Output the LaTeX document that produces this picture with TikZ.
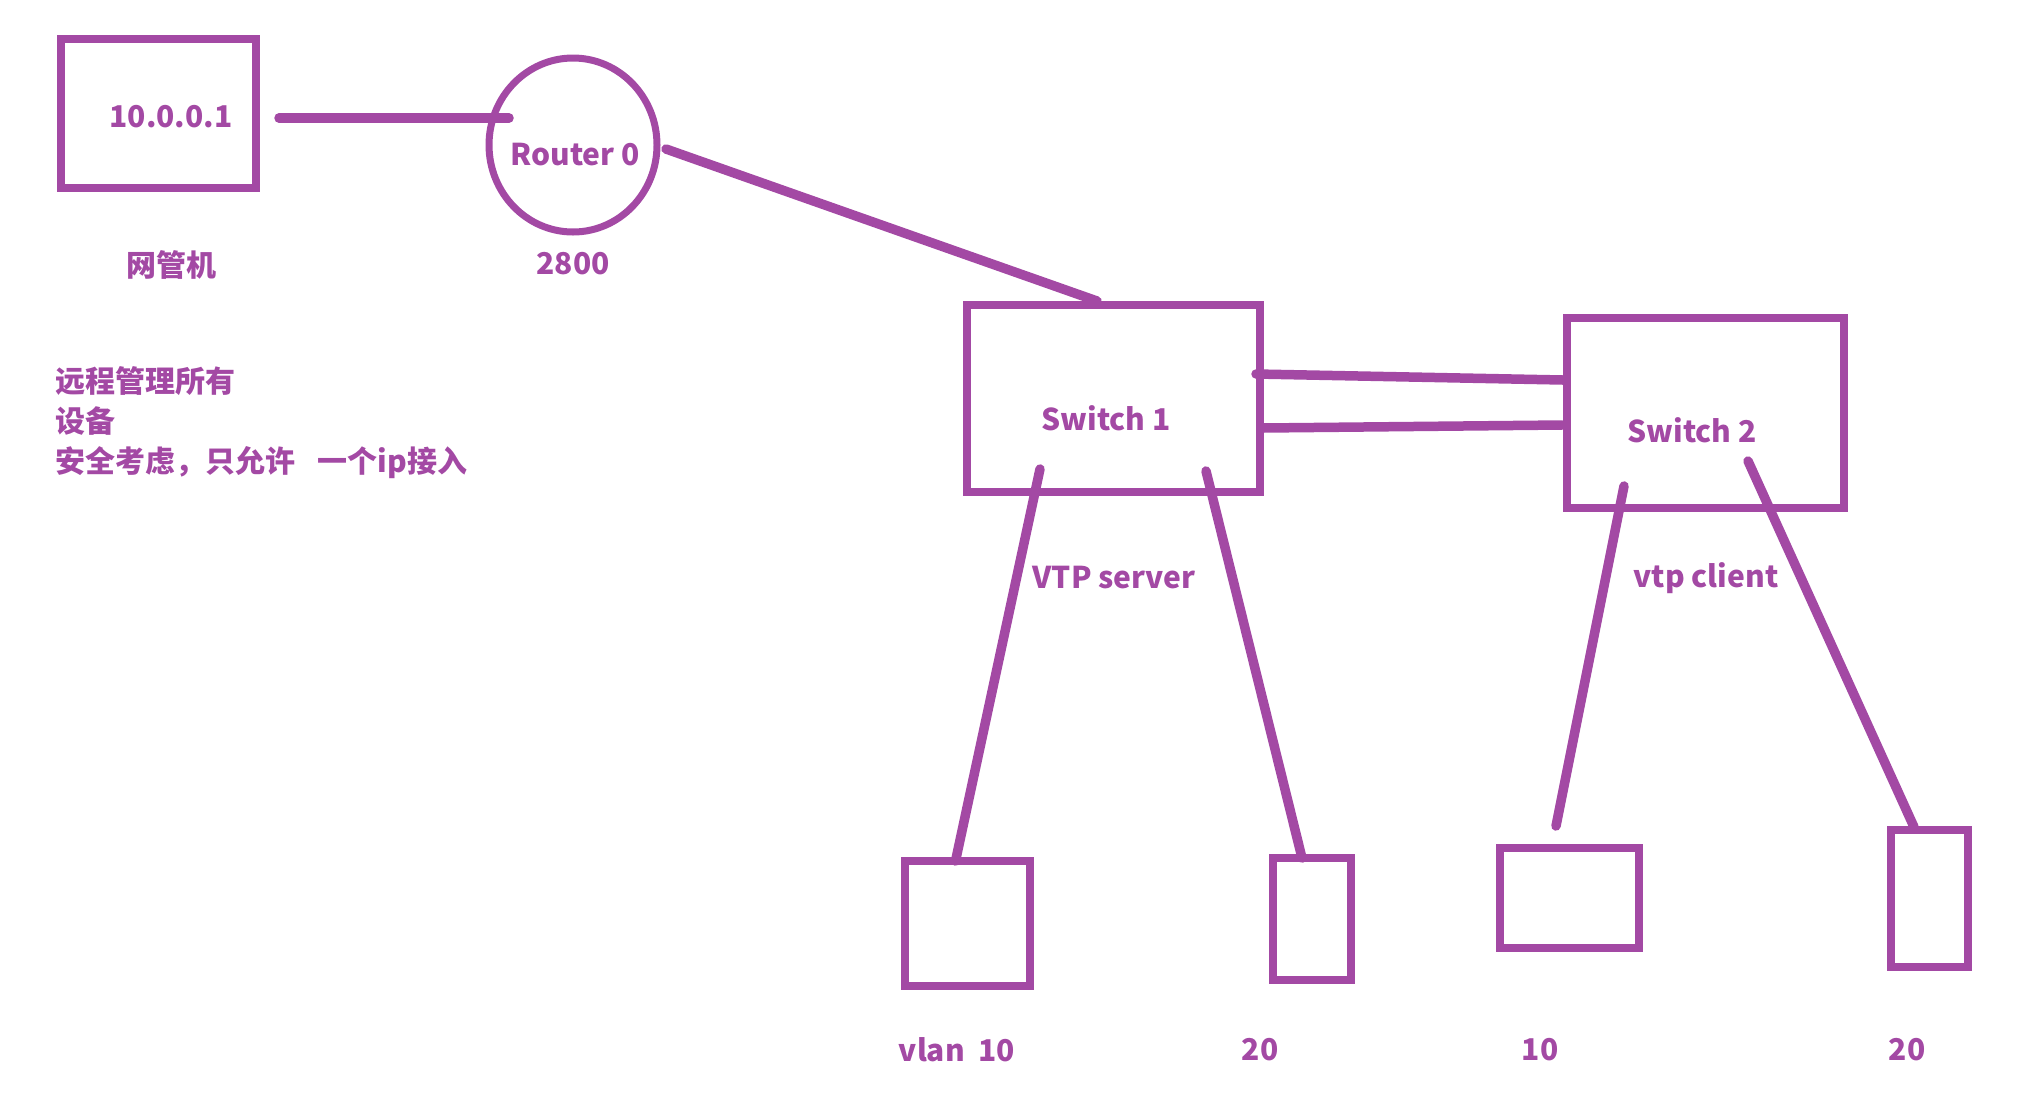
\documentclass[tikz,border=0pt]{standalone}
\usepackage{fontspec}
\setmainfont{Noto Sans CJK SC}
\usetikzlibrary{shapes.geometric}
\definecolor{paintpurple}{RGB}{163,73,164}

\begin{document}
\begin{tikzpicture}[x=1pt,y=-1pt,
    box/.style={draw=paintpurple,line width=8pt,rectangle,inner sep=0pt,outer sep=0pt},
    wire/.style={draw=paintpurple,line width=9.5pt,line cap=round},
    lbl/.style={text=paintpurple,font=\bfseries\fontsize{30}{40}\selectfont,inner sep=0pt}]
    \useasboundingbox (0,0) rectangle (2036,1112);

    % Draw devices
    \node[box,minimum width=195pt,minimum height=149pt] (pc) at (158.5,113.5) {};
    \node[box,ellipse,line width=7pt,minimum width=168pt,minimum height=174pt] (router) at (573,145) {};
    \node[box,minimum width=293pt,minimum height=187pt] (sw1) at (1113.5,398.5) {};
    \node[box,minimum width=277pt,minimum height=190pt] (sw2) at (1705.5,413) {};

    % Draw hosts
    \node[box,minimum width=125pt,minimum height=125pt] (h1) at (967.5,923.5) {};
    \node[box,minimum width=78pt,minimum height=122pt] (h2) at (1312,919) {};
    \node[box,minimum width=139pt,minimum height=100pt] (h3) at (1569.5,898) {};
    \node[box,minimum width=77pt,minimum height=137pt] (h4) at (1929.5,898.5) {};

    % Ports
    \coordinate (pcport) at (279,118);
    \coordinate (rtin) at (509,118);
    \coordinate (rtout) at (666,149);
    \coordinate (swup) at (1097,301);
    \coordinate (trunka) at (1256,374);
    \coordinate (trunkb) at (1563,380);
    \coordinate (trunkc) at (1263,428);
    \coordinate (trunkd) at (1562,425);
    \coordinate (swa) at (1040,469);
    \coordinate (swb) at (1206,471);
    \coordinate (swc) at (1624,486);
    \coordinate (swd) at (1748,461);
    \coordinate (hostc) at (1556,826);
    \coordinate (hostd) at (1914,827);

    % Draw links
    \draw[wire] (pcport) -- (rtin);
    \draw[wire] (rtout) -- (swup);
    \draw[wire] (trunka) -- (trunkb);
    \draw[wire] (trunkc) -- (trunkd);
    \draw[wire] (swa) -- ([xshift=-12pt]h1.north);
    \draw[wire] (swb) -- ([xshift=-10pt]h2.north);
    \draw[wire] (swc) -- (hostc);
    \draw[wire] (swd) -- (hostd);

    % Add labels
    \node[lbl] (ip) at (171,117) {10.0.0.1};
    \node[lbl] (rtname) at (575,155) {Router 0};
    \node[lbl] (rtmodel) at (573,264) {2800};
    \node[lbl] (pcname) at (171,265) {网管机};
    \node[lbl,anchor=north west,align=left] (note) at (55,366)
        {远程管理所有\\设备\\安全考虑，只允许\hspace{0.75em}一个ip接入};
    \node[lbl] (sw1name) at (1106,418) {Switch 1};
    \node[lbl] (sw2name) at (1692,430) {Switch 2};
    \node[lbl] (sw1mode) at (1114,578) {VTP server};
    \node[lbl] (sw2mode) at (1706,578) {vtp client};
    \node[lbl] (v1) at (957,1050) {vlan\ \ 10};
    \foreach \x/\v/\n in {1260/20/v2,1540/10/v3,1907/20/v4} {
      \node[lbl] (\n) at (\x,1050) {\v};
    }
\end{tikzpicture}
\end{document}
